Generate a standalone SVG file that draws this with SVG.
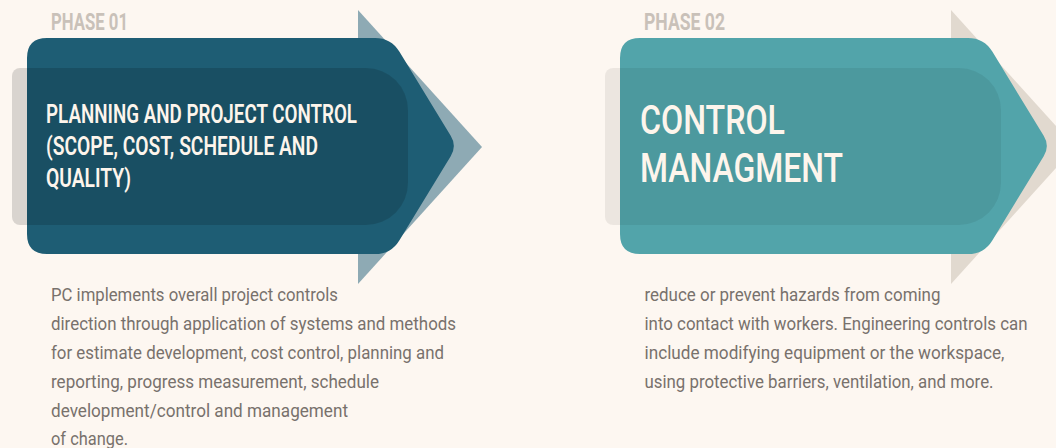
<svg xmlns="http://www.w3.org/2000/svg" width="1056" height="448" viewBox="0 0 1056 448">
<style>
.bg{fill:#fdf7f1}
.phase{font-family:Roboto,"Liberation Sans",sans-serif;font-size:23px;font-weight:700;fill:#c9c1b9}
.t1{font-family:Roboto,"Liberation Sans",sans-serif;font-size:25px;font-weight:600;fill:#fdf5ec}
.t2{font-family:Roboto,"Liberation Sans",sans-serif;font-size:40px;font-weight:500;fill:#fdf5ec}
.body{font-family:Roboto,"Liberation Sans",sans-serif;font-size:19px;font-weight:400;fill:#78716c}
</style>
<defs>
<path id="tri" d="M358,10 L482,147 L358,284 Z"/>
<path id="arrow" d="M27,58 Q27,38 47,38 L375,38 Q391,38 399.3,51.6 L450.7,135.8 Q457,146 450.7,156.2 L399.3,240.4 Q391,254 375,254 L47,254 Q27,254 27,234 Z"/>
<path id="shadow" d="M20,68 L366,68 A42,42 0 0 1 408,110 L408,183 A42,42 0 0 1 366,225 L20,225 A8,8 0 0 1 12,217 L12,76 A8,8 0 0 1 20,68 Z"/>
</defs>
<rect class="bg" x="0" y="0" width="1056" height="448"/>
<g id="connectors"/>
<g id="phase01">
<use href="#tri" fill="#8eaab4"/>
<use href="#arrow" fill="#1e5d74"/>
<use href="#shadow" fill="#000" fill-opacity="0.14"/>
<text class="phase" x="51" y="30" textLength="77" lengthAdjust="spacingAndGlyphs">PHASE 01</text>
<text class="t1" x="46" y="123" textLength="311" lengthAdjust="spacingAndGlyphs">PLANNING AND PROJECT CONTROL</text>
<text class="t1" x="46" y="155" textLength="272" lengthAdjust="spacingAndGlyphs">(SCOPE, COST, SCHEDULE AND</text>
<text class="t1" x="46" y="187" textLength="85" lengthAdjust="spacingAndGlyphs">QUALITY)</text>
<text class="body" x="51" y="301" textLength="287" lengthAdjust="spacingAndGlyphs">PC implements overall project controls</text>
<text class="body" x="51" y="330" textLength="405" lengthAdjust="spacingAndGlyphs">direction through application of systems and methods</text>
<text class="body" x="51" y="359" textLength="393" lengthAdjust="spacingAndGlyphs">for estimate development, cost control, planning and</text>
<text class="body" x="51" y="388" textLength="328" lengthAdjust="spacingAndGlyphs">reporting, progress measurement, schedule</text>
<text class="body" x="51" y="416.5" textLength="297" lengthAdjust="spacingAndGlyphs">development/control and management</text>
<text class="body" x="51" y="445" textLength="77" lengthAdjust="spacingAndGlyphs">of change.</text>
</g>
<g id="phase02">
<use href="#tri" fill="#e1d9cf" transform="translate(593,0)"/>
<use href="#arrow" fill="#52a4aa" transform="translate(593,0)"/>
<use href="#shadow" fill="#000" fill-opacity="0.065" transform="translate(593,0)"/>
<text class="phase" x="644" y="30" textLength="81" lengthAdjust="spacingAndGlyphs">PHASE 02</text>
<text class="t2" x="640" y="134" textLength="145" lengthAdjust="spacingAndGlyphs">CONTROL</text>
<text class="t2" x="640" y="182" textLength="203" lengthAdjust="spacingAndGlyphs">MANAGMENT</text>
<g transform="translate(644.5,0) scale(0.85,1)">
<text class="body" x="0" y="301" textLength="348.2" lengthAdjust="spacingAndGlyphs">reduce or prevent hazards from coming</text>
<text class="body" x="0" y="330" textLength="450.6" lengthAdjust="spacingAndGlyphs">into contact with workers. Engineering controls can</text>
<text class="body" x="0" y="359" textLength="423.5" lengthAdjust="spacingAndGlyphs">include modifying equipment or the workspace,</text>
<text class="body" x="0" y="388" textLength="410.6" lengthAdjust="spacingAndGlyphs">using protective barriers, ventilation, and more.</text>
</g>
</g>
</svg>
